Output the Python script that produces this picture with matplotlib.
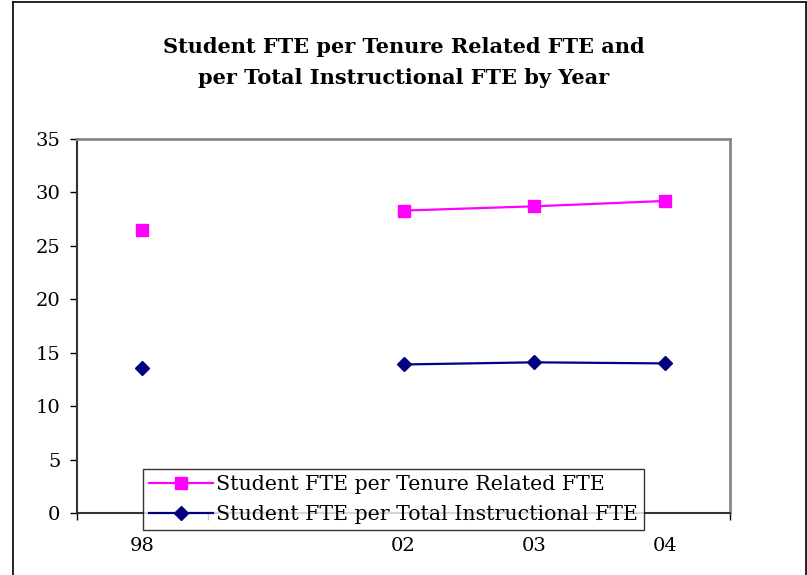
import numpy as np
import matplotlib
matplotlib.use("Agg")
import matplotlib.pyplot as plt
from matplotlib.lines import Line2D

# data (the gap is an empty year slot)
years = ["98", "", "02", "03", "04"]
tenure_ratio = [26.5, np.nan, 28.3, 28.7, 29.2]
instr_ratio = [13.6, np.nan, 13.9, 14.1, 14.0]

label_tenure = "Student FTE per Tenure Related FTE"
label_instr = "Student FTE per Total Instructional FTE"
title = "Student FTE per Tenure Related FTE and\nper Total Instructional FTE by Year"

plt.rcParams["font.family"] = ["DejaVu Serif"]

fig = plt.figure(figsize=(8.07, 5.75), dpi=100)
ax = fig.add_axes([77 / 807, 1 - 513 / 575, (730 - 77) / 807, (513 - 139) / 575])

x = np.arange(len(years))
ax.plot(x, tenure_ratio, color="#FF00FF", linewidth=1.6, marker="s",
        markersize=9, label=label_tenure, clip_on=False)
ax.plot(x, instr_ratio, color="#000080", linewidth=1.6, marker="D",
        markersize=7.5, label=label_instr, clip_on=False)

ax.set_xlim(-0.5, len(years) - 0.5)
ax.set_ylim(0, 35)
ax.set_yticks(range(0, 36, 5))
ax.tick_params(axis="y", direction="out", length=5, width=1, labelsize=14, pad=7)

# category labels at centres, tick marks at the boundaries
ax.set_xticks(x)
ax.set_xticklabels(years)
ax.tick_params(axis="x", which="major", length=0, labelsize=14, pad=17)
ax.set_xticks(np.arange(-0.5, len(years)), minor=True)
ax.tick_params(axis="x", which="minor", direction="out", length=5, width=1)

for side in ["top", "right"]:
    ax.spines[side].set_color("#888888")
    ax.spines[side].set_linewidth(2)
for side in ["left", "bottom"]:
    ax.spines[side].set_color("#333333")
    ax.spines[side].set_linewidth(1.5)

fig.suptitle(title, fontsize=15, fontweight="bold", y=1 - 37 / 575,
             va="top", linespacing=1.7)

leg = ax.legend(loc="lower left", bbox_to_anchor=(143 / 807, 1 - 530 / 575),
                bbox_transform=fig.transFigure, fontsize=14.8, frameon=True,
                fancybox=False, edgecolor="black", borderpad=0.3,
                handlelength=3.1, handletextpad=0.15, labelspacing=0.53,
                borderaxespad=0)
leg.get_frame().set_linewidth(1)
leg.set_zorder(5)

# outer chart frame
fig.add_artist(Line2D([13.5 / 807, 13.5 / 807], [0, 1 - 1.5 / 575],
                      transform=fig.transFigure, color="black", linewidth=1.2))
fig.add_artist(Line2D([13.5 / 807, 806 / 807], [1 - 1.5 / 575, 1 - 1.5 / 575],
                      transform=fig.transFigure, color="black", linewidth=1.2))
fig.add_artist(Line2D([806 / 807, 806 / 807], [0, 1 - 1.5 / 575],
                      transform=fig.transFigure, color="black", linewidth=1.2))

fig.savefig("out.png", dpi=100)
